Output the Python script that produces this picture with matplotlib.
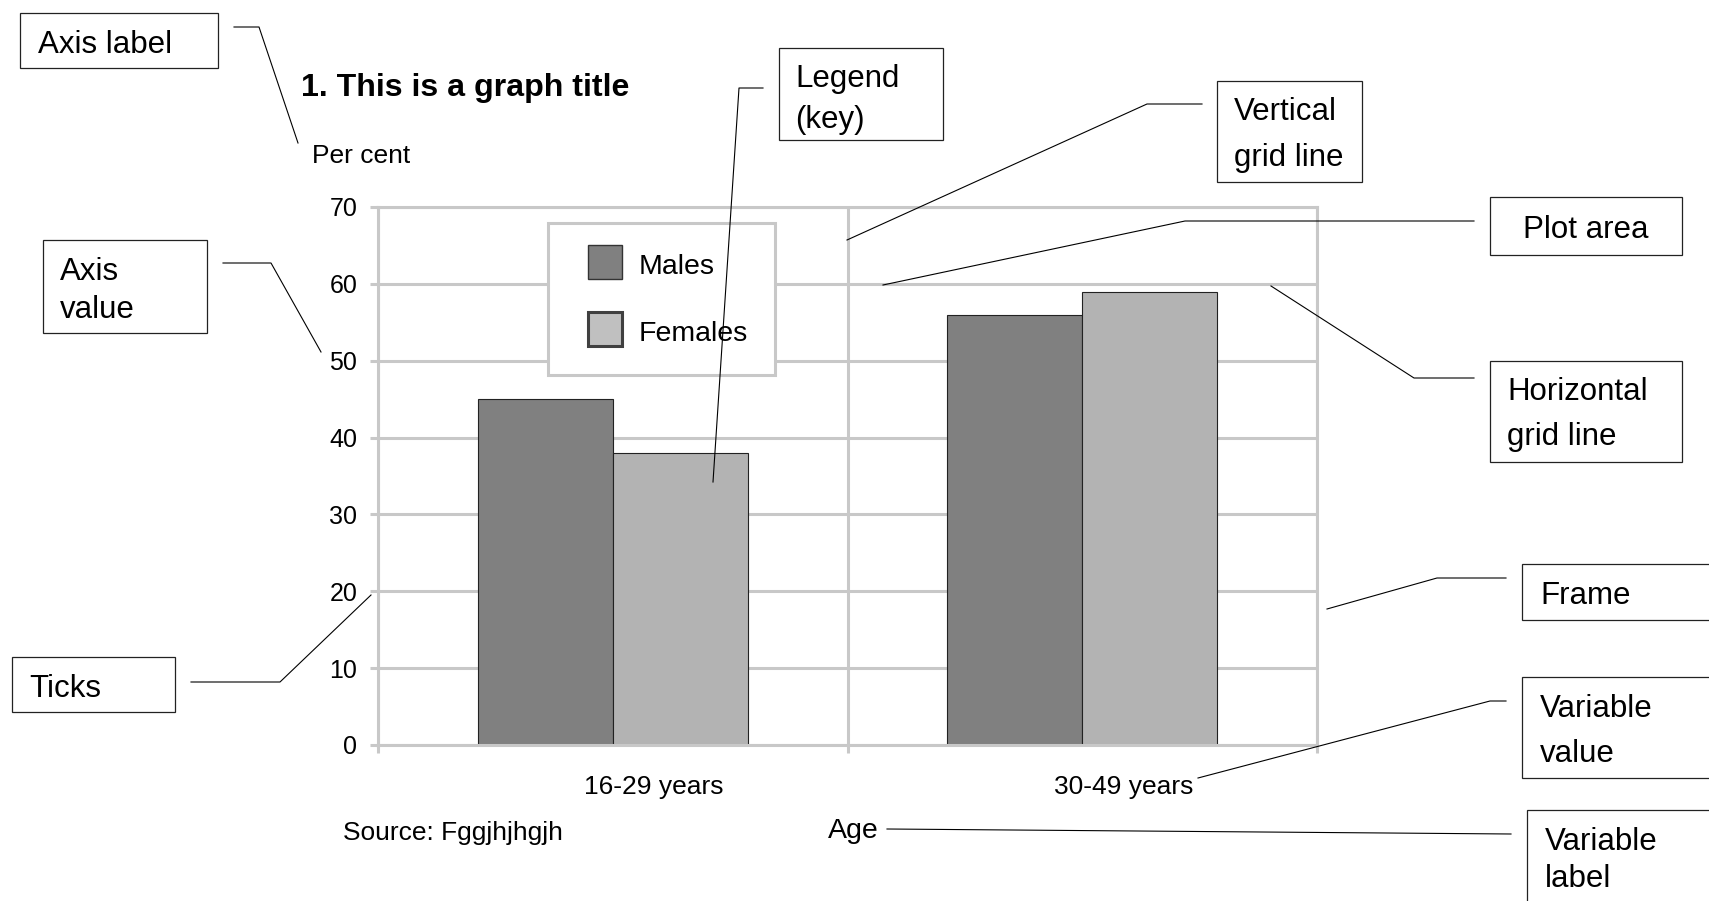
import numpy as np
import matplotlib.pyplot as plt
from matplotlib.patches import Rectangle, Patch
from matplotlib.lines import Line2D
from matplotlib.legend_handler import HandlerPatch
from matplotlib.transforms import ScaledTranslation

plt.rcParams['font.family'] = ['Liberation Sans', 'DejaVu Sans']

W, H = 1709, 901

categories = ['16-29 years', '30-49 years']
series = ['Males', 'Females']
males = [45, 56]
females = [38, 59]
y_ticks = [0, 10, 20, 30, 40, 50, 60, 70]

grey = '#c8c8c8'


def fx(x):
    return x / W


def fy(y):
    return 1 - y / H


def square(legend, orig_handle, xdescent, ydescent, width, height, fontsize):
    # swatch sits at the right end of the handle box, so the key gets a wider left margin
    size = height + ydescent
    return Rectangle((width - size - xdescent, -ydescent), size, size)


fig = plt.figure(figsize=(W / 100, H / 100), dpi=100)
ax = fig.add_axes([fx(378), fy(745), (1317 - 378) / W, (745 - 207) / H])

x = np.arange(len(categories)) + 0.5
w = 0.2875
ax.bar(x - w / 2, males, w, color='#808080', edgecolor='#222222', linewidth=0.8, zorder=2)
ax.bar(x + w / 2, females, w, color='#b3b3b3', edgecolor='#222222', linewidth=0.8, zorder=2)

ax.set_xlim(0, 2)
ax.set_ylim(0, 70)
ax.set_yticks(y_ticks)
ax.set_xticks([0, 1, 2])
ax.set_xticklabels([])
ax.set_xticks(x, minor=True)
ax.set_xticklabels(categories, minor=True)

ax.tick_params(axis='both', which='major', color=grey, width=2.2, length=5.5, direction='out')
ax.tick_params(axis='y', labelsize=18, pad=9.5)
ax.tick_params(axis='x', which='minor', length=0, pad=21.6, labelsize=19)
ax.grid(True, which='major', color=grey, linewidth=2.2)
ax.set_axisbelow(True)
for s in ax.spines.values():
    s.set_color(grey)
    s.set_linewidth(2.2)

# category labels sit a little right of the group centres
off = ScaledTranslation(41 / 100, 0, fig.dpi_scale_trans)
for lab in ax.get_xticklabels(minor=True):
    lab.set_transform(lab.get_transform() + off)

handles = [Patch(facecolor='#808080', edgecolor='#333333', linewidth=1.0),
           Patch(facecolor='#c0c0c0', edgecolor='#404040', linewidth=2.2)]
leg = ax.legend(handles, series, loc='upper left',
                bbox_to_anchor=((548 - 378) / 939, (745 - 223) / 538),
                borderaxespad=0, fontsize=20.5, frameon=True, fancybox=False,
                framealpha=1, edgecolor=grey, borderpad=0.95, handlelength=1.65,
                handleheight=1.2, handletextpad=0.6, labelspacing=1.3,
                handler_map={Patch: HandlerPatch(patch_func=square)})
leg.get_frame().set_linewidth(2.2)
leg.set_zorder(5)

# chart texts
fig.text(fx(301), fy(96), '1. This is a graph title', fontsize=23.1, fontweight='bold', va='baseline')
fig.text(fx(312), fy(163), 'Per cent', fontsize=19, va='baseline')
fig.text(fx(343), fy(840), 'Source: Fggjhjhgjh', fontsize=19, va='baseline')
fig.text(fx(828), fy(838), 'Age', fontsize=20.5, va='baseline')

# callouts: box, text lines (text, left x, baseline y), leader line points
callouts = [
    ((20, 13, 218, 68), [('Axis label', 38, 53)], [(234, 27), (259, 27), (298, 143)]),
    ((43, 240, 207, 333), [('Axis', 60, 280), ('value', 60, 318)], [(223, 263), (271, 263), (321, 352)]),
    ((12, 657, 175, 712), [('Ticks', 29, 697)], [(191, 682), (280, 682), (371, 595)]),
    ((779, 48, 943, 140), [('Legend', 795, 87), ('(key)', 795, 128)], [(763, 88), (739, 88), (713, 482)]),
    ((1217, 81, 1362, 182), [('Vertical', 1234, 120), ('grid line', 1234, 166)], [(1202, 104), (1147, 104), (847, 240)]),
    ((1490, 197, 1682, 255), [('Plot area', 1523, 238)], [(1474, 221), (1185, 221), (883, 285)]),
    ((1490, 361, 1682, 462), [('Horizontal', 1507, 400), ('grid line', 1507, 445)], [(1474, 378), (1414, 378), (1271, 286)]),
    ((1522, 564, 1720, 620), [('Frame', 1540, 604)], [(1506, 578), (1437, 578), (1327, 609)]),
    ((1522, 677, 1720, 778), [('Variable', 1540, 717), ('value', 1540, 762)], [(1506, 701), (1490, 701), (1198, 778)]),
    ((1527, 810, 1720, 910), [('Variable', 1545, 850), ('label', 1545, 887)], [(1511, 834), (887, 829)]),
]

for (x0, y0, x1, y1), lines, path in callouts:
    fig.add_artist(Rectangle((fx(x0), fy(y1)), (x1 - x0) / W, (y1 - y0) / H,
                             transform=fig.transFigure, facecolor='white',
                             edgecolor='#222222', linewidth=0.9))
    for txt, tx, ty in lines:
        fig.text(fx(tx), fy(ty), txt, fontsize=22.5, va='baseline')
    xs = [fx(p[0]) for p in path]
    ys = [fy(p[1]) for p in path]
    fig.add_artist(Line2D(xs, ys, transform=fig.transFigure, color='black', linewidth=0.8))

fig.savefig('out.png', dpi=100)
